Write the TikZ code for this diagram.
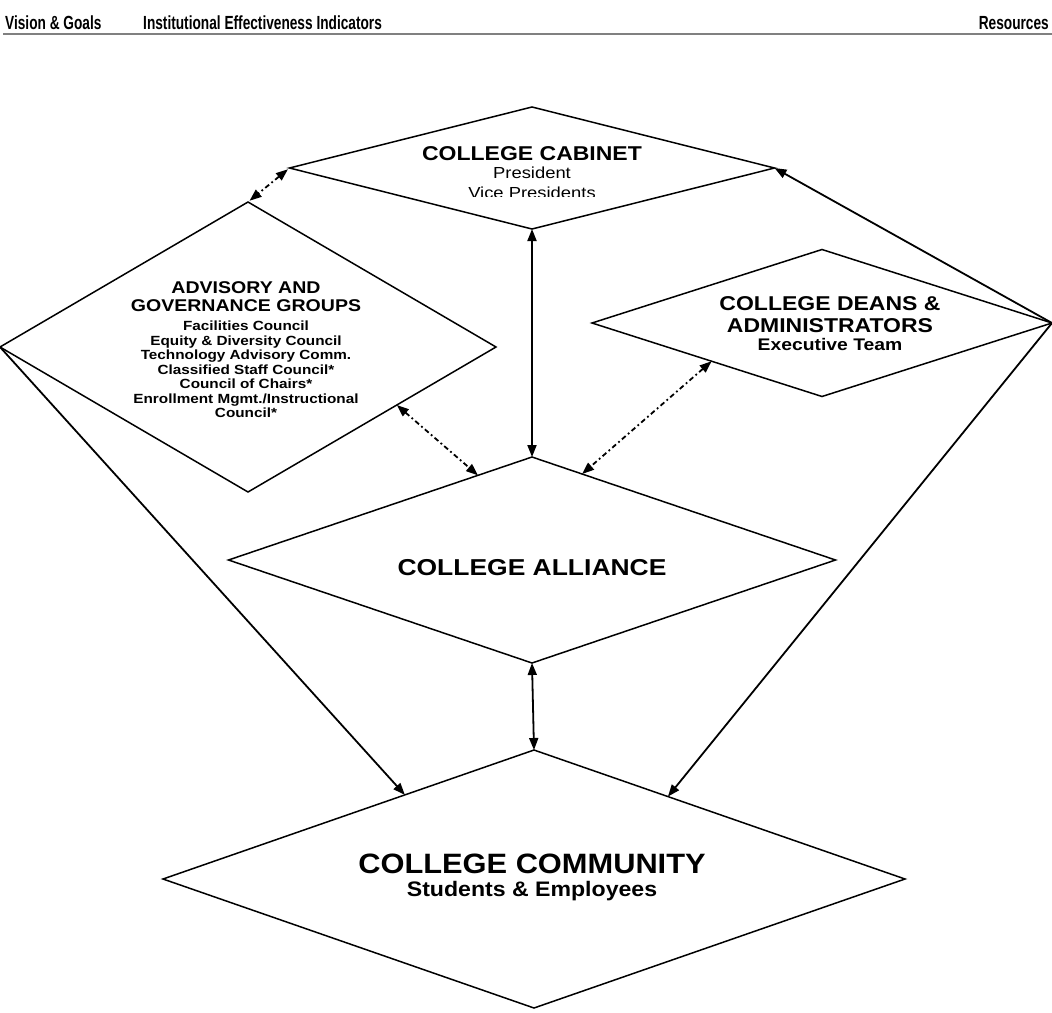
\documentclass[tikz,border=0pt]{standalone}
\usepackage{fontspec}
\setmainfont{Liberation Sans}
\newfontfamily\hdrfont[FakeStretch=0.72]{Liberation Sans}
\newfontfamily\widefont[FakeStretch=1.15]{Liberation Sans}
\newfontfamily\comfont[FakeStretch=1.1]{Liberation Sans}
\usetikzlibrary{shapes.geometric,arrows.meta,calc}
\tikzset{
  dia/.style={shape=diamond, draw, line width=1.5pt, inner sep=0pt, outer sep=0pt},
  txt/.style={inner sep=0pt, anchor=base},
  hdr/.style={inner sep=0pt, font=\hdrfont\bfseries\fontsize{19}{22}\selectfont},
  oneway/.style={line width=1.8pt, -{Triangle[length=12pt,width=9pt]}},
  twoway/.style={line width=1.8pt, {Triangle[length=12pt,width=9pt]}-{Triangle[length=12pt,width=9pt]}},
  dotway/.style={line width=1.8pt, dash pattern=on 5pt off 3pt on 1.8pt off 3pt,
     {Triangle[length=12pt,width=9pt]}-{Triangle[length=12pt,width=9pt]}},
}
\begin{document}
\begin{tikzpicture}[x=1pt,y=-1pt]
\path[use as bounding box, fill=white] (0,0) rectangle (1052,1012);

% header
\node[hdr, anchor=base west] (h1) at (5,29) {Vision \& Goals};
\node[hdr, anchor=base west] (h2) at (143,29) {Institutional Effectiveness Indicators};
\node[hdr, anchor=base east] (h3) at (1049,29) {Resources};
\coordinate (rl) at (3,34);
\coordinate (rr) at (1052,34);
\draw[gray, line width=1.6pt] (rl) -- (rr);

% diamonds
\node[dia, minimum width=485pt, minimum height=122pt] (cab) at (532,168) {};
\node[dia, minimum width=496pt, minimum height=290pt] (adv) at (248,347) {};
\node[dia, minimum width=460pt, minimum height=147pt] (dean) at (822,323) {};
\node[dia, minimum width=607pt, minimum height=206pt] (all) at (532,560) {};
\node[dia, minimum width=742pt, minimum height=258pt] (com) at (534,879) {};

% cabinet text
\node[txt, font=\widefont\bfseries\fontsize{20}{23}\selectfont] (cabT) at (532,160) {COLLEGE CABINET};
\node[txt, font=\widefont\fontsize{16}{19}\selectfont] (cabP) at (532,178) {President};
\begin{scope}
\clip (400,150) rectangle (660,196);
\node[txt, font=\widefont\fontsize{16}{19}\selectfont] (cabV) at (532,198) {Vice Presidents};
\end{scope}

% advisory text
\begin{scope}[every node/.style={txt}]
\node[font=\widefont\bfseries\fontsize{17}{20}\selectfont] (advT1) at (246,293) {ADVISORY AND};
\node[font=\widefont\bfseries\fontsize{17}{20}\selectfont] (advT2) at (246,311) {GOVERNANCE GROUPS};
\node[font=\widefont\bfseries\fontsize{13.3}{15}\selectfont] (advL1) at (246,330) {Facilities Council};
\node[font=\widefont\bfseries\fontsize{13.3}{15}\selectfont] (advL2) at (246,345) {Equity \& Diversity Council};
\node[font=\widefont\bfseries\fontsize{13.3}{15}\selectfont] (advL3) at (246,359) {Technology Advisory Comm.};
\node[font=\widefont\bfseries\fontsize{13.3}{15}\selectfont] (advL4) at (246,374) {Classified Staff Council*};
\node[font=\widefont\bfseries\fontsize{13.3}{15}\selectfont] (advL5) at (246,388) {Council of Chairs*};
\node[font=\widefont\bfseries\fontsize{13.3}{15}\selectfont] (advL6) at (246,403) {Enrollment Mgmt./Instructional};
\node[font=\widefont\bfseries\fontsize{13.3}{15}\selectfont] (advL7) at (246,417) {Council*};

% deans text
\node[font=\widefont\bfseries\fontsize{20}{23}\selectfont] (deanT1) at (830,310) {COLLEGE DEANS \&};
\node[font=\widefont\bfseries\fontsize{20}{23}\selectfont] (deanT2) at (830,332) {ADMINISTRATORS};
\node[font=\widefont\bfseries\fontsize{16.8}{19}\selectfont] (deanT3) at (830,350) {Executive Team};

% alliance text
\node[font=\widefont\bfseries\fontsize{23}{26}\selectfont] (allT) at (532,575) {COLLEGE ALLIANCE};

% community text
\node[font=\comfont\bfseries\fontsize{28}{31}\selectfont] (comT) at (532,873) {COLLEGE COMMUNITY};
\node[font=\comfont\bfseries\fontsize{21}{24}\selectfont] (comS) at (532,896) {Students \& Employees};
\end{scope}

% connector points on edges
\coordinate (advE) at ($(adv.east)!0.4!(adv.south)$);
\coordinate (allNW) at ($(all.north)!0.178!(all.west)$);
\coordinate (deanSW) at ($(dean.west)!0.52!(dean.south)$);
\coordinate (allNE) at ($(all.north)!0.165!(all.east)$);
\coordinate (comNW) at ($(com.north)!0.348!(com.west)$);
\coordinate (comNE) at ($(com.north)!0.361!(com.east)$);

% connectors
\draw[dotway, shorten <=2pt, shorten >=2pt] (cab.west) -- (adv.north);
\draw[twoway] (cab.south) -- (all.north);
\draw[dotway] (advE) -- (allNW);
\draw[dotway] (deanSW) -- (allNE);
\draw[oneway] (dean.east) -- (cab.east);
\draw[oneway] (dean.east) -- (comNE);
\draw[oneway] (adv.west) -- (comNW);
\draw[twoway] (all.south) -- (com.north);
\end{tikzpicture}
\end{document}
